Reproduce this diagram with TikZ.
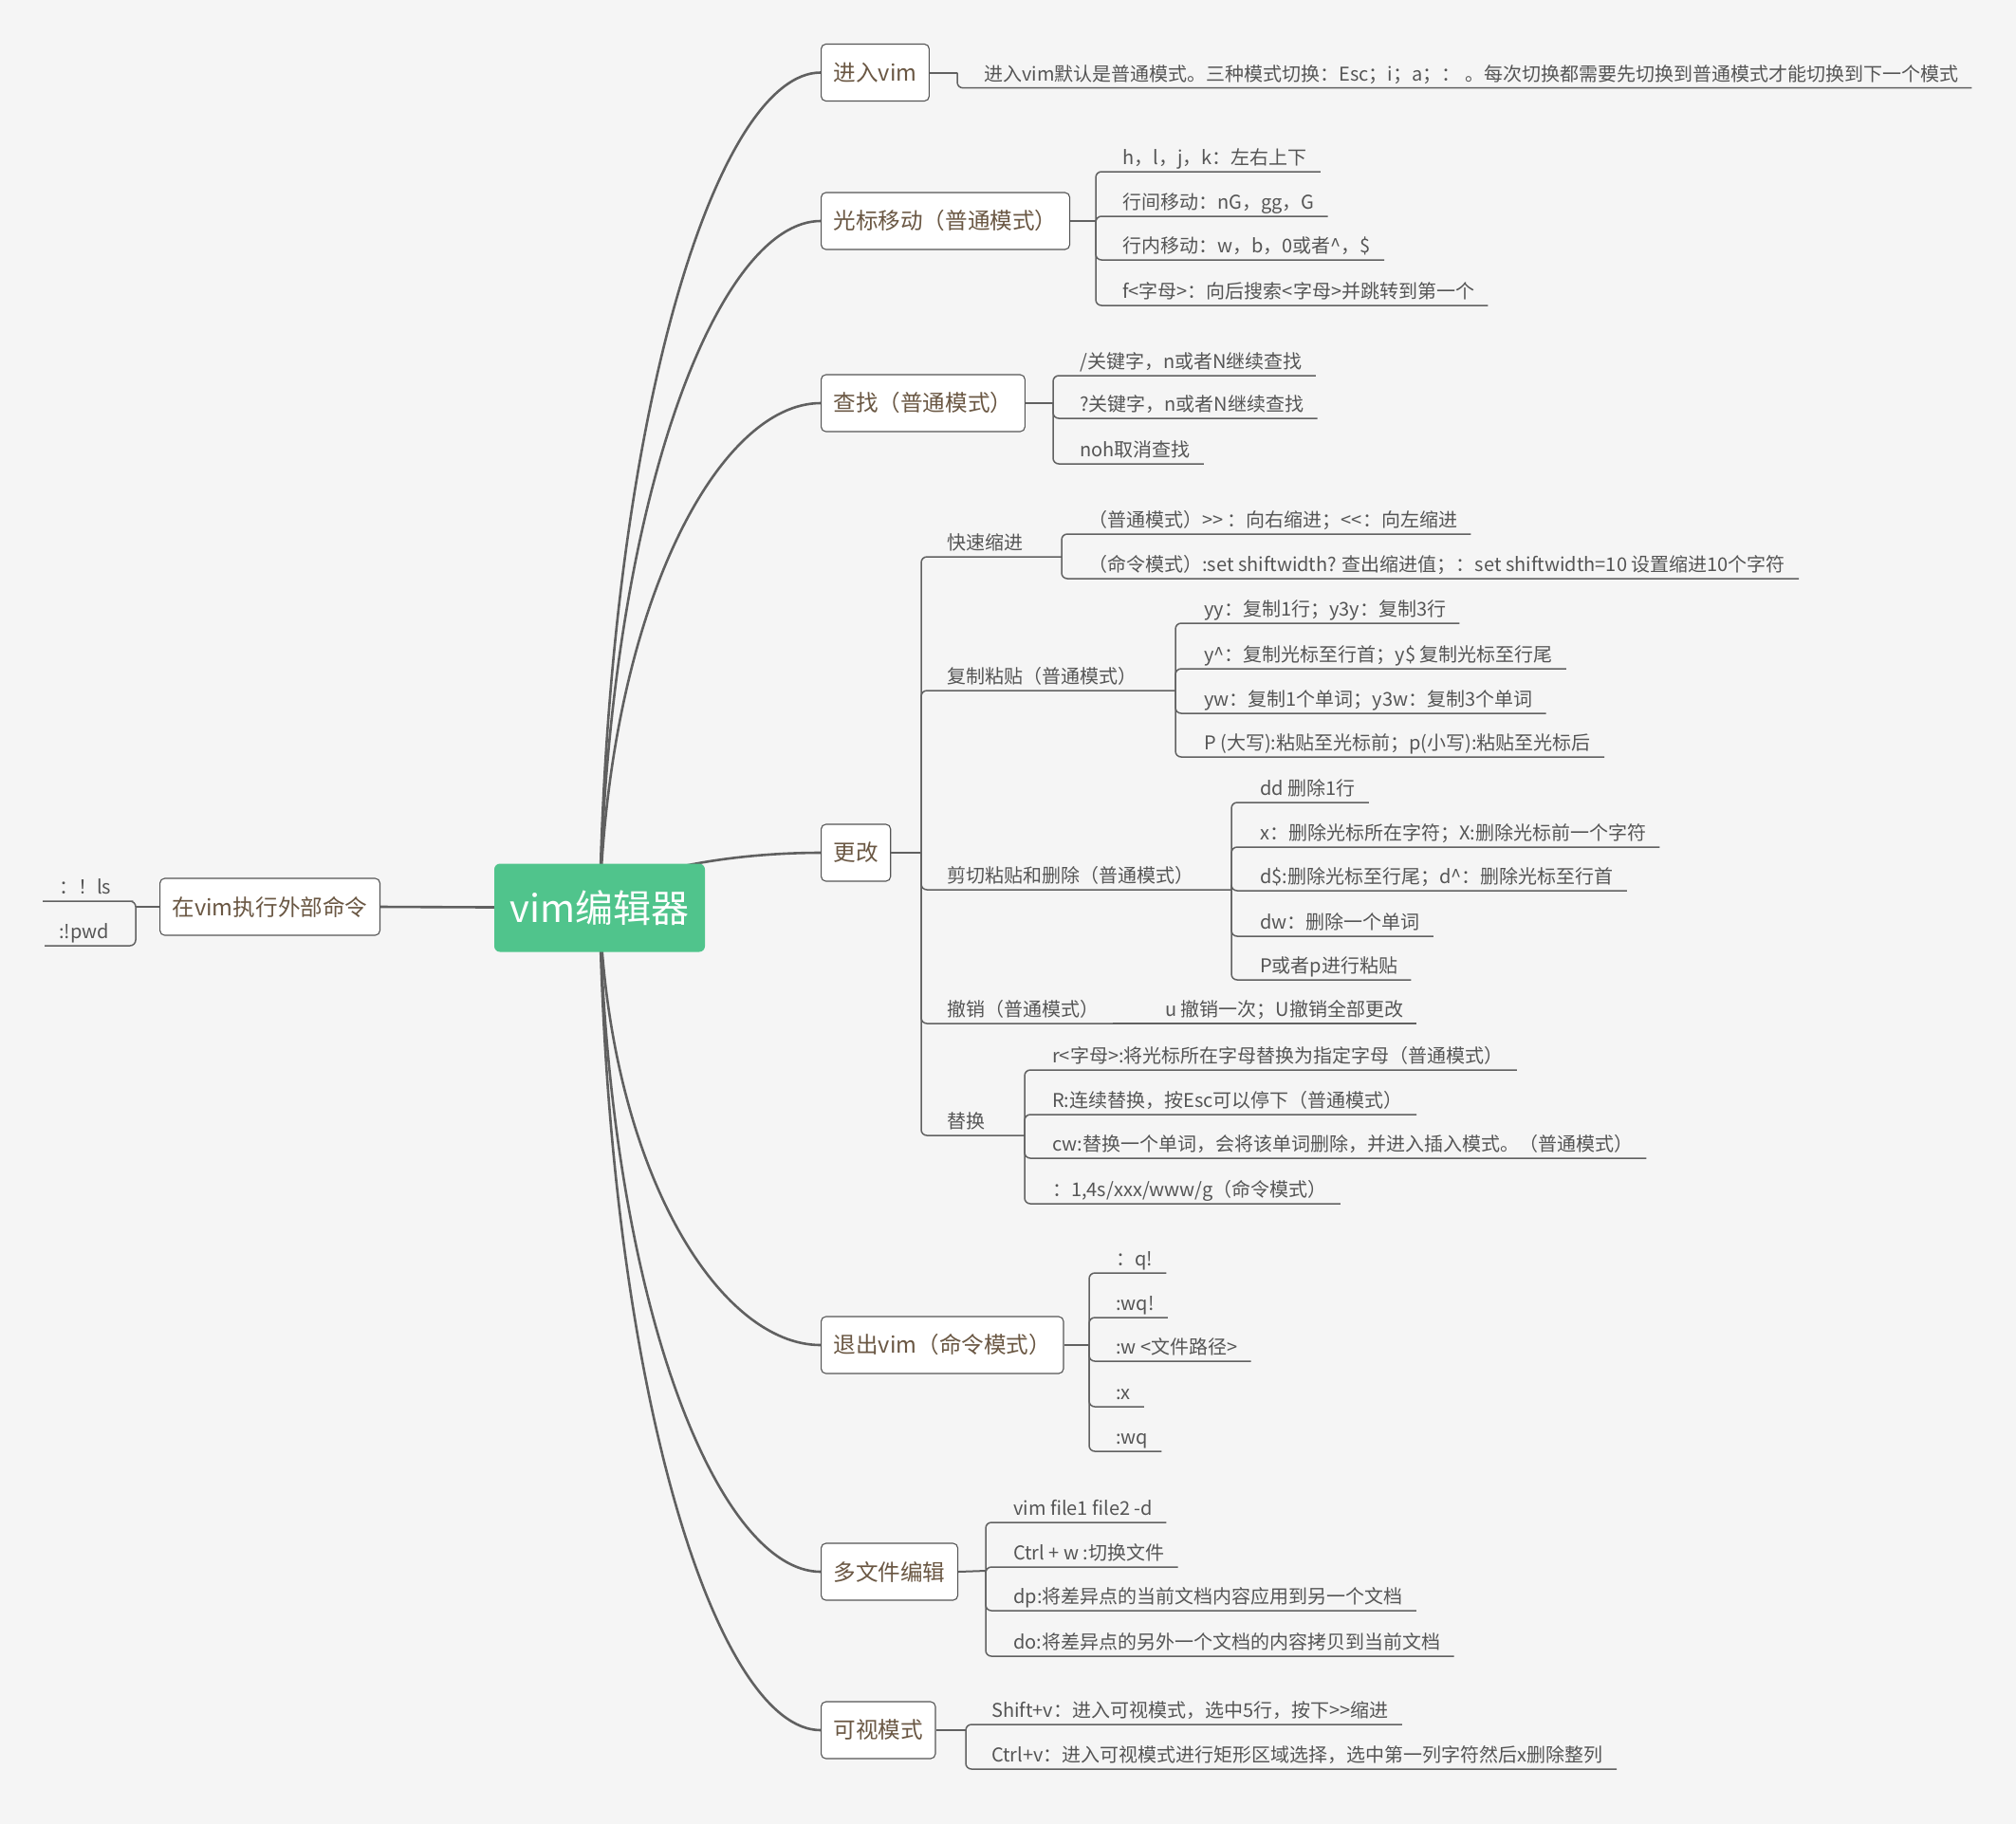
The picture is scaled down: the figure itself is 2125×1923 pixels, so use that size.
\documentclass[tikz,border=0pt]{standalone}
\usepackage{fontspec}
\setmainfont{Noto Sans CJK SC}
\usetikzlibrary{calc}
\definecolor{bgc}{HTML}{F5F5F5}
\definecolor{linec}{HTML}{606060}
\definecolor{leafline}{HTML}{616161}
\definecolor{boxborder}{HTML}{555555}
\definecolor{boxtext}{HTML}{6A5743}
\definecolor{leaftext}{HTML}{555555}
\definecolor{rootgreen}{HTML}{50C48C}
\newcommand{\dgt}{>\kern0pt>}
\newcommand{\dlt}{<\kern0pt<}
\begin{document}
\begin{tikzpicture}[x=1pt,y=-1pt,
  box/.style={draw=boxborder, fill=white, rounded corners=5pt, line width=1.1pt, minimum height=60pt, inner xsep=13pt, font=\fontsize{23.6}{28}\selectfont, text=boxtext, anchor=west},
  leaf/.style={anchor=south west, inner xsep=14pt, inner ysep=3pt, text height=16pt, text depth=4pt, font=\fontsize{20}{24}\selectfont, text=leaftext},
  lline/.style={draw=leafline, line width=1.5pt, rounded corners=6pt},
  bline/.style={draw=leafline, line width=2pt},
  maincurve/.style={draw=linec, line width=2.6pt, to path={let \p1=(\tikztostart), \p2=(\tikztotarget) in .. controls ({\x1+10pt},{\y1+0.6*(\y2-\y1)}) and ({\x1+0.54*(\x2-\x1)},\y2) .. (\p2)}}]
\fill[bgc] (0,0) rectangle (2125,1923);
\useasboundingbox (0,0) rectangle (2125,1923);

\coordinate (rc) at (632,957);

% main branch boxes
\node[box] (b1) at (865,76.5) {进入vim};
\node[box] (b2) at (865,233) {光标移动（普通模式）};
\node[box] (b3) at (865,425) {查找（普通模式）};
\node[box] (b4) at (865,899) {更改};
\node[box] (b5) at (865,1418) {退出vim（命令模式）};
\node[box] (b6) at (865,1657) {多文件编辑};
\node[box] (b7) at (865,1824) {可视模式};
\node[box, anchor=east] (lb) at (401,956) {在vim执行外部命令};

\foreach \b in {b1,b2,b3,b4,b5,b6,b7} \draw[maincurve] (rc) to (\b.west);
\draw[draw=linec, line width=2.6pt] (rc) -- (lb.east);

\node[fill=rootgreen, rounded corners=6pt, minimum width=222pt, minimum height=93pt, inner sep=0pt, text=white, font=\fontsize{40}{46}\selectfont] (root) at (rc) {vim编辑器};

% left leaves
\coordinate (j0) at (143,956);
\draw[bline] (lb.west) -- (j0);
\node[leaf, inner xsep=17pt] (ll1) at (45,950) {：！ls};
\node[leaf, inner xsep=15pt] (ll2) at (47,997) {:!pwd};
\foreach \l in {ll1,ll2} \draw[lline] (j0) |- (\l.south east) -- (\l.south west);

% branch 1
\coordinate (j1) at (1009,76.5);
\draw[bline] (b1.east) -- (j1);
\node[leaf] (l11) at (1023,92.7) {进入vim默认是普通模式。三种模式切换：Esc；i；a；： 。每次切换都需要先切换到普通模式才能切换到下一个模式};
\draw[lline] (j1) |- (l11.south west) -- (l11.south east);

% branch 2
\coordinate (j2) at (1155,233);
\draw[bline] (b2.east) -- (j2);
\node[leaf] (l21) at (1169,181) {h，l，j，k：左右上下};
\node[leaf] (l22) at (1169,228) {行间移动：nG，gg，G};
\node[leaf] (l23) at (1169,274) {行内移动：w，b，0或者\textasciicircum{}，\$};
\node[leaf] (l24) at (1169,322) {f<字母>：向后搜索<字母>并跳转到第一个};
\foreach \l in {l21,l22,l23,l24} \draw[lline] (j2) |- (\l.south west) -- (\l.south east);

% branch 3
\coordinate (j3) at (1110,425);
\draw[bline] (b3.east) -- (j3);
\node[leaf] (l31) at (1124,396) {/关键字，n或者N继续查找};
\node[leaf] (l32) at (1124,441) {?关键字，n或者N继续查找};
\node[leaf] (l33) at (1124,489) {noh取消查找};
\foreach \l in {l31,l32,l33} \draw[lline] (j3) |- (\l.south west) -- (\l.south east);

% branch 4
\coordinate (j4) at (971,899);
\draw[bline] (b4.east) -- (j4);
\node[leaf] (s1) at (984,587) {快速缩进};
\node[leaf] (s2) at (984,728) {复制粘贴（普通模式）};
\node[leaf] (s3) at (984,938) {剪切粘贴和删除（普通模式）};
\node[leaf] (s4) at (984,1079) {撤销（普通模式）};
\node[leaf] (s5) at (984,1197) {替换};
\coordinate (k1) at (1119,587);
\coordinate (k2) at (1239,728);
\coordinate (k3) at (1298,938);
\coordinate (k4) at (1173,1079);
\coordinate (k5) at (1080,1197);
\foreach \k in {k1,k2,k3,k4,k5} \draw[lline] (j4) |- (\k);

\node[leaf] (l411) at (1133,563) {（普通模式）\dgt{} ：向右缩进；\dlt：向左缩进};
\node[leaf] (l412) at (1133,610) {（命令模式）:set shiftwidth? 查出缩进值；：set shiftwidth=10 设置缩进10个字符};
\foreach \l in {l411,l412} \draw[lline] (k1) |- (\l.south west) -- (\l.south east);

\node[leaf] (l421) at (1255,657) {yy：复制1行；y3y：复制3行};
\node[leaf] (l422) at (1255,705) {y\textasciicircum{}：复制光标至行首；y\$ 复制光标至行尾};
\node[leaf] (l423) at (1255,752) {yw：复制1个单词；y3w：复制3个单词};
\node[leaf] (l424) at (1255,798) {P (大写):粘贴至光标前；p(小写):粘贴至光标后};
\foreach \l in {l421,l422,l423,l424} \draw[lline] (k2) |- (\l.south west) -- (\l.south east);

\node[leaf] (l431) at (1314,846) {dd 删除1行};
\node[leaf] (l432) at (1314,893) {x：删除光标所在字符；X:删除光标前一个字符};
\node[leaf] (l433) at (1314,939) {d\$:删除光标至行尾；d\textasciicircum{}：删除光标至行首};
\node[leaf] (l434) at (1314,987) {dw：删除一个单词};
\node[leaf] (l435) at (1314,1033) {P或者p进行粘贴};
\foreach \l in {l431,l432,l433,l434,l435} \draw[lline] (k3) |- (\l.south west) -- (\l.south east);

\node[leaf] (l441) at (1214,1079) {u 撤销一次；U撤销全部更改};
\draw[lline, rounded corners=0pt] (k4) -- (l441.south east);

\node[leaf] (l451) at (1095,1128) {r<字母>:将光标所在字母替换为指定字母（普通模式）};
\node[leaf] (l452) at (1095,1175) {R:连续替换，按Esc可以停下（普通模式）};
\node[leaf] (l453) at (1095,1221) {cw:替换一个单词，会将该单词删除，并进入插入模式。（普通模式）};
\node[leaf] (l454) at (1095,1269) {：1,4s/xxx/www/g（命令模式）};
\foreach \l in {l451,l452,l453,l454} \draw[lline] (k5) |- (\l.south west) -- (\l.south east);

% branch 5
\coordinate (j5) at (1148,1418);
\draw[bline] (b5.east) -- (j5);
\node[leaf] (l51) at (1162,1342) {：q!};
\node[leaf] (l52) at (1162,1389) {:wq!};
\node[leaf] (l53) at (1162,1435) {:w <文件路径>};
\node[leaf] (l54) at (1162,1483) {:x};
\node[leaf] (l55) at (1162,1530) {:wq};
\foreach \l in {l51,l52,l53,l54,l55} \draw[lline] (j5) |- (\l.south west) -- (\l.south east);

% branch 6
\coordinate (j6) at (1039,1656);
\draw[bline] (b6.east) -- (j6);
\node[leaf] (l61) at (1054,1605) {vim file1 file2 -d};
\node[leaf] (l62) at (1054,1652) {Ctrl + w :切换文件};
\node[leaf] (l63) at (1054,1698) {dp:将差异点的当前文档内容应用到另一个文档};
\node[leaf] (l64) at (1054,1746) {do:将差异点的另外一个文档的内容拷贝到当前文档};
\foreach \l in {l61,l62,l63,l64} \draw[lline] (j6) |- (\l.south west) -- (\l.south east);

% branch 7
\coordinate (j7) at (1018,1824);
\draw[bline] (b7.east) -- (j7);
\node[leaf] (l71) at (1031,1818) {Shift+v：进入可视模式，选中5行，按下\dgt{}缩进};
\node[leaf] (l72) at (1031,1865) {Ctrl+v：进入可视模式进行矩形区域选择，选中第一列字符然后x删除整列};
\foreach \l in {l71,l72} \draw[lline] (j7) |- (\l.south west) -- (\l.south east);
\end{tikzpicture}
\end{document}
